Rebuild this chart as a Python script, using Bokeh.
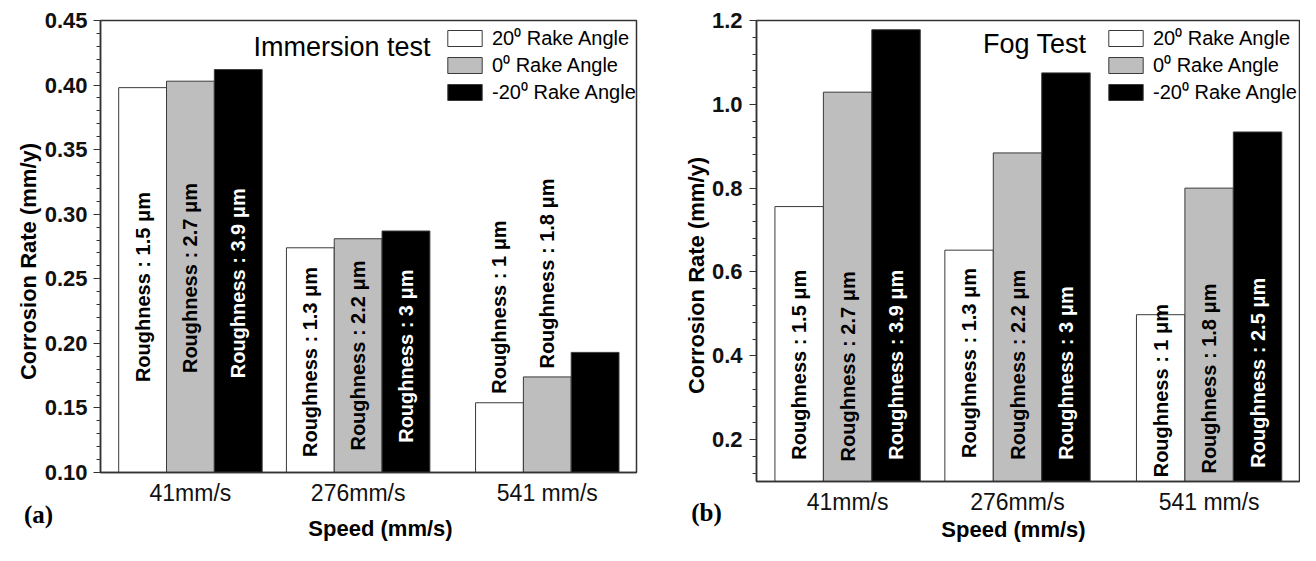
import math
from bokeh.plotting import figure
from bokeh.models import (ColumnDataSource, FixedTicker, SingleIntervalTicker,
                          PrintfTickFormatter, Label, Legend, LegendItem, Range1d,
                          LinearAxis, BoxAnnotation, Grid)
from bokeh.transform import dodge
from bokeh.layouts import row
from bokeh.embed import file_html
from bokeh.resources import INLINE
from bokeh.core.properties import value

# ---------------- data ----------------
speeds = [41, 276, 541]
speed_labels = ["41mm/s", "276mm/s", "541 mm/s"]
series_names = ["20\u2070 Rake Angle", "0\u2070 Rake Angle", "-20\u2070 Rake Angle"]

# (a) Immersion test corrosion rate (mm/y)
imm_rake_p20 = [0.398, 0.274, 0.154]
imm_rake_0 = [0.403, 0.281, 0.174]
imm_rake_m20 = [0.412, 0.287, 0.193]

# (b) Fog test corrosion rate (mm/y)
fog_rake_p20 = [0.756, 0.652, 0.498]
fog_rake_0 = [1.029, 0.884, 0.800]
fog_rake_m20 = [1.178, 1.075, 0.934]

# surface roughness (um) per bar
rough_p20 = ["1.5", "1.3", "1"]
rough_0 = ["2.7", "2.2", "1.8"]
rough_m20 = ["3.9", "3", "2.5"]

# hand-placed start heights of the roughness annotations (data units)
imm_lab_p20 = [0.170, 0.112, 0.161]
imm_lab_0 = [0.177, 0.117, 0.1805]
imm_lab_m20 = [0.173, 0.123, 0.2007]
fog_lab_p20 = [0.152, 0.156, 0.110]
fog_lab_0 = [0.148, 0.152, 0.119]
fog_lab_m20 = [0.152, 0.152, 0.133]

FONT = "Liberation Sans"
FILLS = ["white", "#bebebe", "black"]
TXT = ["black", "black", "white"]
OFFS = [-67, 0, 67]
BAR_W = 67
FRAME = "#333333"
H = 545
X_LIM = (-85, 666)
EPS = 1e-6


def make_panel(vals, labs, y_lim, interval, fmt, width, box_x, box_y,
               title, title_px, tag, tag_px, ylab_px, xlab_px, legend_px,
               ytick_standoff):
    # box_x / box_y: pixel position of the plotting box inside this canvas
    sx = (X_LIM[1] - X_LIM[0]) / (box_x[1] - box_x[0])
    x0 = X_LIM[0] - box_x[0] * sx
    x1 = X_LIM[1] + (width - box_x[1]) * sx
    sy = (y_lim[1] - y_lim[0]) / (box_y[1] - box_y[0])
    y1 = y_lim[1] + box_y[0] * sy
    y0 = y_lim[0] - (H - box_y[1]) * sy

    p = figure(width=width, height=H, output_backend="svg", toolbar_location=None,
               x_range=Range1d(x0, x1), y_range=Range1d(y0, y1),
               x_axis_location=None, y_axis_location=None, min_border=0)
    p.outline_line_color = None
    p.background_fill_color = "white"
    p.border_fill_color = "white"
    for rdr in p.center:
        if isinstance(rdr, Grid):
            rdr.visible = False

    items = []
    roughs = [rough_p20, rough_0, rough_m20]
    for i in range(3):
        src = ColumnDataSource(dict(
            x=speeds, top=vals[i], ly=labs[i],
            txt=["Roughness : %s \u03bcm" % r for r in roughs[i]]))
        r = p.vbar(x=dodge("x", OFFS[i], range=p.x_range), top="top",
                   bottom=y_lim[0], width=BAR_W, source=src, fill_color=FILLS[i],
                   line_color="#3a3a3a", line_width=1)
        items.append(LegendItem(label=series_names[i], renderers=[r]))
        p.text(x=dodge("x", OFFS[i], range=p.x_range), y="ly", text="txt",
               source=src, angle=math.pi / 2, text_align="left",
               text_baseline="middle", text_font=value(FONT),
               text_font_style="bold", text_font_size="20px",
               text_color=TXT[i])

    p.add_layout(BoxAnnotation(left=X_LIM[0], right=X_LIM[1], bottom=y_lim[0],
                               top=y_lim[1], fill_color=None, fill_alpha=0,
                               line_color=FRAME, line_alpha=1, line_width=1.5))

    leg = Legend(items=items, location=(legend_px[0], H - legend_px[1]),
                 glyph_width=43, glyph_height=20,
                 label_height=20, spacing=0, padding=0, margin=0,
                 label_standoff=6, border_line_alpha=0, background_fill_alpha=0,
                 label_text_font=FONT, label_text_font_size="20px",
                 label_text_color="black")
    p.add_layout(leg)

    def lab(txt, xy, **kw):
        p.add_layout(Label(x=xy[0], y=H - xy[1], x_units="screen", y_units="screen",
                           text=txt, text_color="black", **kw))

    lab(title, title_px, text_align="right", text_baseline="alphabetic",
        text_font=FONT, text_font_size="27px")
    lab(tag, tag_px, text_align="center", text_baseline="middle",
        text_font="Liberation Serif", text_font_style="bold", text_font_size="25px")
    lab("Corrosion Rate (mm/y)", ylab_px, angle=math.pi / 2, text_align="center",
        text_baseline="middle", text_font=FONT, text_font_style="bold",
        text_font_size="22px")
    lab("Speed (mm/s)", xlab_px, text_align="center", text_baseline="middle",
        text_font=FONT, text_font_style="bold", text_font_size="22px")

    # y axis
    ya = LinearAxis(fixed_location=X_LIM[0], bounds=(y_lim[0] - EPS, y_lim[1] + EPS))
    ya.ticker = SingleIntervalTicker(interval=interval, num_minor_ticks=5)
    ya.formatter = PrintfTickFormatter(format=fmt)
    ya.major_label_text_font = FONT
    ya.major_label_text_font_style = "bold"
    ya.major_label_text_font_size = "22px"
    ya.major_label_text_color = "#111111"
    ya.major_label_standoff = ytick_standoff
    ya.major_tick_out = 7
    ya.major_tick_in = 0
    ya.minor_tick_out = 4
    ya.minor_tick_in = 0
    ya.axis_line_color = FRAME
    ya.axis_line_width = 1.5
    ya.major_tick_line_color = FRAME
    ya.minor_tick_line_color = FRAME
    p.add_layout(ya, "left")

    # x axis
    xa = LinearAxis(fixed_location=y_lim[0], bounds=X_LIM)
    xa.ticker = FixedTicker(ticks=speeds)
    xa.major_label_overrides = {s: l for s, l in zip(speeds, speed_labels)}
    xa.major_label_text_font = FONT
    xa.major_label_text_font_size = "23px"
    xa.major_label_text_color = "#111111"
    xa.major_label_standoff = 7
    xa.major_tick_out = 0
    xa.major_tick_in = 0
    xa.minor_tick_out = 0
    xa.minor_tick_in = 0
    xa.axis_line_color = FRAME
    xa.axis_line_width = 1.5
    p.add_layout(xa, "below")
    return p


pa = make_panel([imm_rake_p20, imm_rake_0, imm_rake_m20],
                [imm_lab_p20, imm_lab_0, imm_lab_m20],
                (0.10, 0.45), 0.05, "%.2f", 650, (100, 636), (20, 472),
                "Immersion test", (430, 46), "(a)", (38, 514), (28, 261), (380, 528),
                (443, 105), 6)
pb = make_panel([fog_rake_p20, fog_rake_0, fog_rake_m20],
                [fog_lab_p20, fog_lab_0, fog_lab_m20],
                (0.10, 1.20), 0.2, "%.1f", 650, (106, 649), (20, 481),
                "Fog Test", (436, 43), "(b)", (56, 512), (46, 275), (363, 529),
                (454, 105), 7)

layout = row(pa, pb)
open("out.html", "w").write(file_html(layout, INLINE))
